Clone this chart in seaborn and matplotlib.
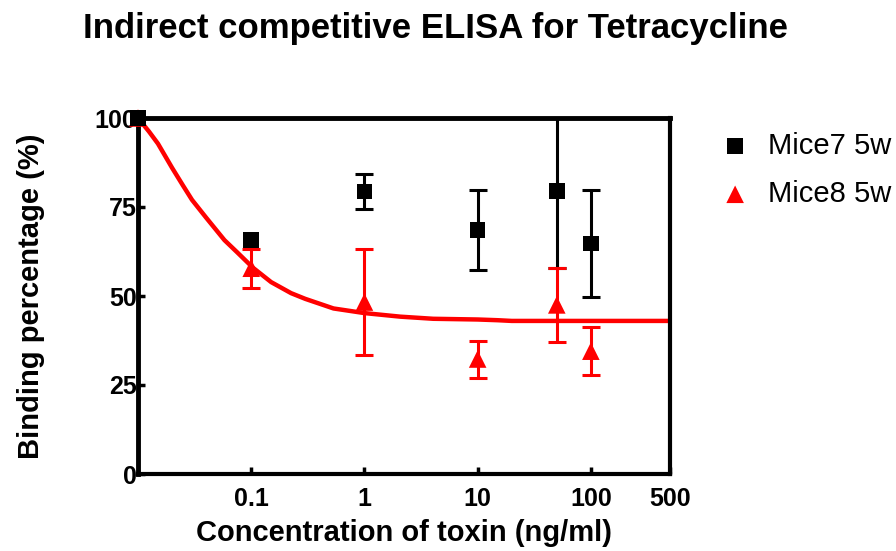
import numpy as np
import matplotlib
matplotlib.use('Agg')
import matplotlib.pyplot as plt
import seaborn as sns

# Concentrations (ng/ml) and binding percentages
conc = [0.01, 0.1, 1, 10, 50, 100]
mice7_mean = [100, 65.7, 79.3, 68.5, 79.5, 64.8]
mice7_err = [0, 0, 5, 11.2, 21.5, 15]
mice8_mean = [100, 57.8, 48.3, 32.3, 47.5, 34.5]
mice8_err = [0, 5.5, 15, 5.2, 10.5, 6.8]

# Fitted curve for Mice8
curve_x = [0.01, 0.0125, 0.015, 0.02, 0.025, 0.03, 0.04, 0.058, 0.075, 0.104, 0.15, 0.225,
           0.3, 0.533, 1, 2.07, 4.05, 10, 15, 20, 50, 100, 500]
curve_y = [100, 96.2, 92.8, 86, 81, 77, 72, 65.7, 62.3, 57.9, 53.9, 50.8,
           49.2, 46.5, 45.2, 44.2, 43.6, 43.4, 43.2, 43, 43, 43, 43]

x_ticks = [0.1, 1, 10, 100, 500]
x_ticklabels = ['0.1', '1', '10', '100', '500']
y_ticks = [0, 25, 50, 75, 100]

sns.set_style('ticks')
plt.rcParams['font.family'] = ['Liberation Sans', 'DejaVu Sans']
plt.rcParams['text.color'] = 'black'
plt.rcParams['axes.labelcolor'] = 'black'
plt.rcParams['xtick.color'] = 'black'
plt.rcParams['ytick.color'] = 'black'

fig = plt.figure(figsize=(8.96, 5.51), dpi=100)
ax = fig.add_axes([138 / 896, 1 - 474 / 551, 532 / 896, 356 / 551])

# Fitted curve
sns.lineplot(x=curve_x, y=curve_y, color='#ff0000', lw=3.2, sort=False, ax=ax,
             solid_capstyle='round', solid_joinstyle='round', zorder=2)

# Error bars (clipped to the axes, like the original)
for mean, err, col in [(mice7_mean, mice7_err, 'black'), (mice8_mean, mice8_err, '#ff0000')]:
    c = np.array(conc)
    m = np.array(mean)
    e = np.array(err)
    keep = e > 0
    ax.errorbar(c[keep], m[keep], yerr=e[keep], fmt='none', ecolor=col,
                elinewidth=2.2, capsize=6.4, capthick=2.2, zorder=3)

# Markers
sns.scatterplot(x=conc, y=mice8_mean, marker='^', s=160, color='#ff0000',
                edgecolor='none', ax=ax, clip_on=False, zorder=4, label='Mice8 5w')
sns.scatterplot(x=conc, y=mice7_mean, marker='s', s=125, color='black',
                edgecolor='none', ax=ax, clip_on=False, zorder=5, label='Mice7 5w')

ax.set_xscale('log')
ax.set_xlim(0.01, 500)
ax.set_ylim(0, 100)
ax.set_xticks(x_ticks)
ax.set_xticklabels(x_ticklabels)
ax.xaxis.set_minor_locator(matplotlib.ticker.NullLocator())
ax.set_yticks(y_ticks)

for s in ax.spines.values():
    s.set_visible(True)
    s.set_linewidth(3)
    s.set_color('black')
ax.spines['top'].set_linewidth(3.5)
ax.spines['left'].set_linewidth(3.5)

ax.tick_params(axis='both', direction='in', length=5, width=2.5, labelsize=18,
               color='black')
ax.tick_params(axis='x', pad=9)
ax.tick_params(axis='y', pad=1)
for lab in ax.get_xticklabels() + ax.get_yticklabels():
    lab.set_fontweight('bold')

ax.set_xlabel('Concentration of toxin (ng/ml)', fontsize=21, fontweight='bold', labelpad=6)
ax.set_ylabel('Binding percentage (%)', fontsize=21, fontweight='bold', labelpad=36)

fig.suptitle('Indirect competitive ELISA for Tetracycline', fontsize=25,
             fontweight='bold', x=435 / 896, y=1 - 12 / 551, va='top')

handles, labels = ax.get_legend_handles_labels()
ax.legend(handles[::-1], labels[::-1], loc='upper left', bbox_to_anchor=(1.095, 0.962),
          frameon=False, fontsize=21, handlelength=1, handletextpad=0.64,
          labelspacing=0.7, borderpad=0, borderaxespad=0)

fig.savefig('out.png', dpi=100)
